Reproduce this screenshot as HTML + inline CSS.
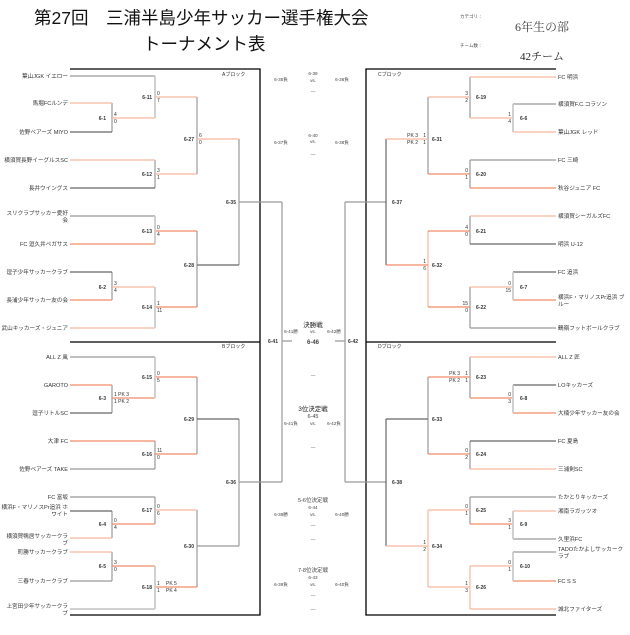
<!DOCTYPE html>
<html><head><meta charset="utf-8"><style>
html,body{margin:0;padding:0;background:#fff;width:630px;height:635px;overflow:hidden}
svg{display:block;font-family:"Liberation Sans","Noto Sans CJK JP",sans-serif}
.t{font-size:5.6px;fill:#333}
.m{font-size:5px;fill:#333;font-weight:bold}
.s{font-size:5px;fill:#333}
.c{font-size:4.6px;fill:#444;text-anchor:middle}
</style></head><body>
<svg width="630" height="635" viewBox="0 0 630 635" xmlns="http://www.w3.org/2000/svg">
<text x="34" y="24" font-size="17.5" fill="#111">第27回　三浦半島少年サッカー選手権大会</text>
<text x="143" y="50" font-size="17.5" fill="#111">トーナメント表</text>
<text x="460" y="18" font-size="4.5" fill="#444">カテゴリ：</text>
<text x="515" y="31" font-size="12" fill="#444" font-family="Liberation Serif,Noto Serif CJK SC,serif">6年生の部</text>
<text x="460" y="47" font-size="4.5" fill="#444">チーム数：</text>
<text x="520" y="60" font-size="11" fill="#222" font-family="Liberation Serif,Noto Serif CJK SC,serif">42チーム</text>

<g stroke="#000" stroke-width="1.3" fill="none">
<path d="M70 69H260V615H70M70 342H260M556 69H366V615H556M366 342H556"/>
</g>
<g font-size="5" fill="#333">
<text x="222" y="76">Aブロック</text><text x="222" y="348">Bブロック</text>
<text x="378" y="76">Cブロック</text><text x="378" y="348">Dブロック</text>
</g>

<g fill="none" stroke-width="1.2">
<g stroke="#999"><path d="M70 76H155M70 216H155M112 103V132M155 160V188M112 272V300M197 97V174M197 231V307M239 139V265M239 202H282"/></g>
<g stroke="#666"><path d="M70 132H112M70 188H155M70 272H112M197 265H239"/></g>
<g stroke="#f8b8a0"><path d="M70 103H112M70 160H155M70 328H155M112 118H155M155 97H197M155 174H197M197 139H239M112 287H155"/></g>
<g stroke="#f08a66"><path d="M70 244H155M70 300H112M155 231H197M155 307H197"/></g>
<g stroke="#d0d0d0" stroke-width="2"><path d="M155 76V118M155 216V244M155 287V328"/></g>
<g stroke="#999"><path d="M70 357H155M70 469H155M70 497H155M70 581H112M112 385V413M155 441V469M112 511V538M155 497V524M112 552V581M197 377V454M197 510V587M239 419V546M197 546H239M239 482H282"/></g>
<g stroke="#666"><path d="M70 413H112M70 511H112M197 419H239"/></g>
<g stroke="#f8b8a0"><path d="M70 538H112M70 552H112M155 510H197"/></g>
<g stroke="#f08a66"><path d="M70 385H112M70 441H155M112 398H155M155 377H197M155 454H197M112 524H155M112 566H155M155 587H197"/></g>
<g stroke="#d0d0d0" stroke-width="2"><path d="M70 609H155M155 357V398M155 566V609"/></g>
<g stroke="#999"><path d="M282 202V482M345 202V482M282 341H292M335 341H345"/></g>
<g stroke="#999"><path d="M556 104H513M556 160H470M556 328H470M470 77V118M470 160V188M470 216V244M470 287V328M428 97V174M386 202H345"/></g>
<g stroke="#666"><path d="M556 244H470M556 272H513M386 139V265"/></g>
<g stroke="#f8b8a0"><path d="M556 77H470M556 132H513M556 216H470M513 118H470M470 97H428M513 287H470M428 139H386M428 231V307"/></g>
<g stroke="#f08a66"><path d="M556 188H470M556 300H513M470 174H428M470 231H428M470 307H428M428 265H386"/></g>
<g stroke="#d0d0d0" stroke-width="2"><path d="M513 104V132M513 272V300"/></g>
<g stroke="#999"><path d="M556 497H470M556 539H513M556 552H513M470 357V398M470 441V469M470 497V524M428 377V454M386 482H345"/></g>
<g stroke="#666"><path d="M556 385H513M556 441H470M428 419H386M386 419V546"/></g>
<g stroke="#f8b8a0"><path d="M556 357H470M556 469H470M556 511H513M556 609H470M470 510H428M513 566H470M470 587H428M470 566V609M428 510V587M428 546H386"/></g>
<g stroke="#f08a66"><path d="M556 413H513M556 581H513M513 398H470M470 377H428M470 454H428M513 524H470"/></g>
<g stroke="#d0d0d0" stroke-width="2"><path d="M513 385V413M513 511V539M513 552V581"/></g>
</g>

<g class="t" text-anchor="end">
<text x="68" y="78">葉山JGK イエロー</text>
<text x="68" y="105">馬堀FCルンデ</text>
<text x="68" y="134">佐野ベアーズ MIYO</text>
<text x="68" y="162">横須賀長野イーグルスSC</text>
<text x="68" y="190">長井ウイングス</text>
<text x="68" y="215">スリクラブサッカー愛好</text><text x="68" y="222">会</text>
<text x="68" y="246">FC 逗久井ペガサス</text>
<text x="68" y="274">逗子少年サッカークラブ</text>
<text x="68" y="302">長浦少年サッカー友の会</text>
<text x="68" y="330">武山キッカーズ・ジュニア</text>
<text x="68" y="359">ALL Z 風</text>
<text x="68" y="387">GAROTO</text>
<text x="68" y="415">逗子リトルSC</text>
<text x="68" y="443">大津 FC</text>
<text x="68" y="471">佐野ベアーズ TAKE</text>
<text x="68" y="499">FC 富坂</text>
<text x="68" y="509">横浜F・マリノスPr追浜 ホ</text><text x="68" y="516">ワイト</text>
<text x="68" y="538">横須賀鴨居サッカークラ</text><text x="68" y="545">ブ</text>
<text x="68" y="554">町勝サッカークラブ</text>
<text x="68" y="583">三春サッカークラブ</text>
<text x="68" y="608">上宮田少年サッカークラ</text><text x="68" y="615">ブ</text>
</g>
<g class="t">
<text x="558" y="79">FC 明浜</text>
<text x="558" y="106">横須賀F.C.コラソン</text>
<text x="558" y="134">葉山JGK レッド</text>
<text x="558" y="162">FC 三崎</text>
<text x="558" y="190">秋谷ジュニア FC</text>
<text x="558" y="218">横須賀シーガルズFC</text>
<text x="558" y="246">明浜 U-12</text>
<text x="558" y="274">FC 追浜</text>
<text x="558" y="299">横浜F・マリノスPr追浜 ブ</text><text x="558" y="306">ルー</text>
<text x="558" y="330">鶴嶺フットボールクラブ</text>
<text x="558" y="359">ALL Z 匠</text>
<text x="558" y="387">LOキッカーズ</text>
<text x="558" y="415">大楠少年サッカー友の会</text>
<text x="558" y="443">FC 夏島</text>
<text x="558" y="471">三浦剣SC</text>
<text x="558" y="499">たかとりキッカーズ</text>
<text x="558" y="513">湘南ラガッツオ</text>
<text x="558" y="541">久里浜FC</text>
<text x="558" y="551">TADOたかよしサッカーク</text><text x="558" y="558">ラブ</text>
<text x="558" y="583">FC S S</text>
<text x="558" y="611">城北ファイターズ</text>
</g>

<g class="m" text-anchor="end">
<text x="106" y="120">6-1</text><text x="152" y="99">6-11</text><text x="152" y="176">6-12</text>
<text x="194" y="141">6-27</text><text x="152" y="233">6-13</text><text x="106" y="289">6-2</text>
<text x="152" y="309">6-14</text><text x="194" y="267">6-28</text><text x="236" y="204">6-35</text>
<text x="152" y="379">6-15</text><text x="106" y="400">6-3</text><text x="152" y="456">6-16</text>
<text x="194" y="421">6-29</text><text x="152" y="512">6-17</text><text x="106" y="526">6-4</text>
<text x="106" y="568">6-5</text><text x="152" y="589">6-18</text><text x="194" y="548">6-30</text>
<text x="236" y="484">6-36</text><text x="278" y="343">6-41</text>
</g>
<g class="s">
<text x="114" y="116">4</text><text x="114" y="123">0</text>
<text x="157" y="95">0</text><text x="157" y="102">7</text>
<text x="157" y="172">3</text><text x="157" y="179">1</text>
<text x="199" y="137">6</text><text x="199" y="144">0</text>
<text x="157" y="229">0</text><text x="157" y="236">4</text>
<text x="114" y="285">3</text><text x="114" y="292">4</text>
<text x="157" y="305">1</text><text x="157" y="312">11</text>
<text x="157" y="375">0</text><text x="157" y="382">5</text>
<text x="114" y="396">1 PK 3</text><text x="114" y="403">1 PK 2</text>
<text x="157" y="452">11</text><text x="157" y="459">0</text>
<text x="157" y="508">0</text><text x="157" y="515">6</text>
<text x="114" y="522">0</text><text x="114" y="529">4</text>
<text x="114" y="564">3</text><text x="114" y="571">0</text>
<text x="157" y="585">1</text><text x="157" y="592">1</text>
<text x="166" y="585">PK 5</text><text x="166" y="592">PK 4</text>
</g>
<g class="m">
<text x="520" y="120">6-6</text><text x="476" y="99">6-19</text><text x="476" y="176">6-20</text>
<text x="432" y="141">6-31</text><text x="476" y="233">6-21</text><text x="520" y="289">6-7</text>
<text x="476" y="309">6-22</text><text x="432" y="267">6-32</text><text x="392" y="204">6-37</text>
<text x="520" y="400">6-8</text><text x="476" y="379">6-23</text><text x="476" y="456">6-24</text>
<text x="432" y="421">6-33</text><text x="520" y="526">6-9</text><text x="476" y="512">6-25</text>
<text x="520" y="568">6-10</text><text x="476" y="589">6-26</text><text x="432" y="548">6-34</text>
<text x="392" y="484">6-38</text><text x="348" y="343">6-42</text>
</g>
<g class="s" text-anchor="end">
<text x="511" y="116">1</text><text x="511" y="123">4</text>
<text x="468" y="95">3</text><text x="468" y="102">2</text>
<text x="468" y="172">0</text><text x="468" y="179">1</text>
<text x="426" y="137">1</text><text x="426" y="144">1</text>
<text x="418" y="137">PK 3</text><text x="418" y="144">PK 2</text>
<text x="468" y="229">4</text><text x="468" y="236">0</text>
<text x="511" y="285">0</text><text x="511" y="292">15</text>
<text x="468" y="305">15</text><text x="468" y="312">0</text>
<text x="426" y="263">1</text><text x="426" y="270">6</text>
<text x="511" y="396">0</text><text x="511" y="403">3</text>
<text x="468" y="375">1</text><text x="468" y="382">1</text>
<text x="460" y="375">PK 3</text><text x="460" y="382">PK 2</text>
<text x="468" y="452">0</text><text x="468" y="459">2</text>
<text x="511" y="522">3</text><text x="511" y="529">1</text>
<text x="468" y="508">0</text><text x="468" y="515">1</text>
<text x="511" y="564">0</text><text x="511" y="571">1</text>
<text x="468" y="585">1</text><text x="468" y="592">3</text>
<text x="426" y="544">1</text><text x="426" y="551">2</text>
</g>

<g class="c">
<text x="313" y="75">6-39</text><text x="281" y="81">6-35負</text><text x="313" y="82">vs.</text><text x="342" y="81">6-36負</text><text x="313" y="93">—</text>
<text x="313" y="137">6-40</text><text x="281" y="144">6-37負</text><text x="313" y="143">vs.</text><text x="342" y="144">6-38負</text><text x="313" y="156">—</text>
<text x="313" y="327" font-size="6.5" fill="#222">決勝戦</text>
<text x="291" y="333">6-41勝</text><text x="313" y="333">vs.</text><text x="334" y="333">6-42勝</text>
<text x="313" y="344" font-size="6" font-weight="bold">6-46</text><text x="313" y="377">—</text>
<text x="313" y="411" font-size="6.5" fill="#222">3位決定戦</text><text x="313" y="418" font-size="5.5">6-45</text>
<text x="291" y="425">6-41負</text><text x="313" y="425">vs.</text><text x="334" y="425">6-42負</text><text x="313" y="449">—</text>
<text x="313" y="502" font-size="5.5">5-6位決定戦</text><text x="313" y="509">6-44</text>
<text x="281" y="516">6-39勝</text><text x="313" y="516">vs.</text><text x="342" y="516">6-40勝</text>
<text x="313" y="527">—</text><text x="313" y="541">—</text>
<text x="313" y="572" font-size="5.5">7-8位決定戦</text><text x="313" y="579">6-43</text>
<text x="281" y="586">6-39負</text><text x="313" y="586">vs.</text><text x="342" y="586">6-40負</text>
<text x="313" y="597">—</text><text x="313" y="611">—</text>
</g>
</svg>
</body></html>
